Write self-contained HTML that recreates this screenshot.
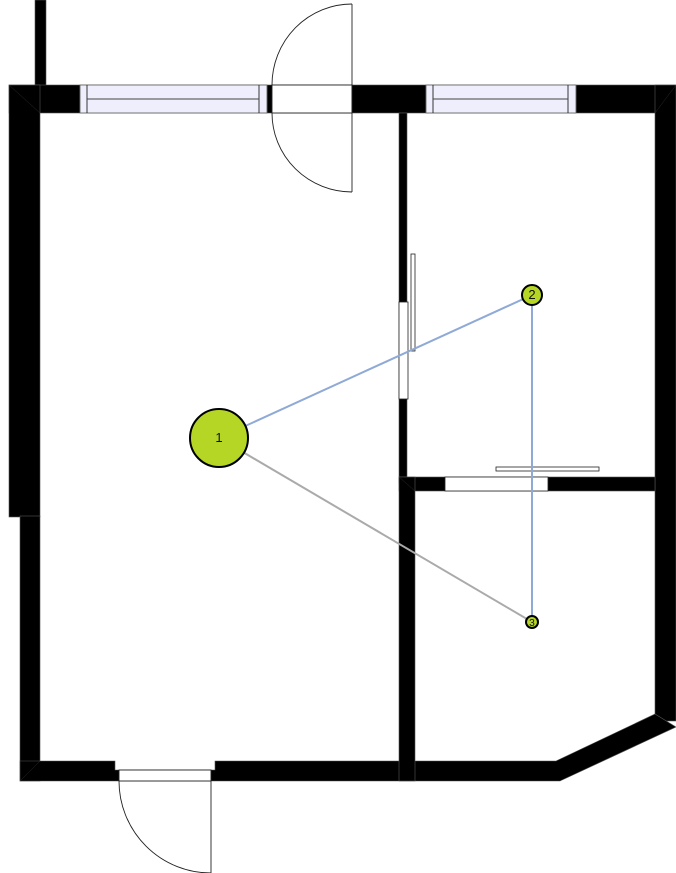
<!DOCTYPE html>
<html><head><meta charset="utf-8">
<style>
html,body{margin:0;padding:0;background:#fff;width:676px;height:873px;overflow:hidden}
svg{display:block}
text{font-family:"Liberation Sans",sans-serif}
</style></head>
<body>
<svg id="plan" width="676" height="873" viewBox="0 0 676 873" xmlns="http://www.w3.org/2000/svg">
  <g fill="#000" stroke="#555" stroke-width="0.6">
    <rect x="35" y="0" width="11" height="86"/>
    <rect x="9" y="85" width="667" height="28"/>
    <rect x="9" y="85" width="31" height="432"/>
    <rect x="20" y="516" width="20" height="265"/>
    <rect x="655" y="85" width="21" height="636"/>
    <polygon points="20,761 115,761 115,770 215,770 215,761 556,761 655,714 676,727 560,781 20,781"/>
    <rect x="399" y="113" width="8" height="370"/>
    <rect x="399" y="477" width="256" height="14"/>
    <rect x="399" y="477" width="16" height="304"/>
  </g>
  <g stroke="#333" stroke-width="0.4">
    <line x1="9" y1="85" x2="40" y2="113"/>
    <line x1="676" y1="85" x2="655" y2="113"/>
    <line x1="399" y1="477" x2="415" y2="491"/>
    <line x1="20" y1="781" x2="40" y2="761"/>
  </g>
  <g stroke="#222" stroke-width="0.9">
    <rect x="80" y="85" width="187" height="28" fill="#eeeefc" stroke="#666"/>
    <line x1="87" y1="85" x2="87" y2="113"/>
    <line x1="259" y1="85" x2="259" y2="113"/>
    <line x1="87" y1="99" x2="259" y2="99" stroke="#444"/>
  </g>
  <g stroke="#222" stroke-width="0.9">
    <rect x="426" y="85" width="150" height="28" fill="#eeeefc" stroke="#666"/>
    <line x1="433" y1="85" x2="433" y2="113"/>
    <line x1="568" y1="85" x2="568" y2="113"/>
    <line x1="433" y1="99" x2="568" y2="99" stroke="#444"/>
  </g>
  <g fill="none" stroke="#222" stroke-width="0.9">
    <rect x="272" y="85" width="80" height="28" fill="#fff"/>
    <line x1="352" y1="4" x2="352" y2="192"/>
    <path d="M352 4 A80 81 0 0 0 272 85"/>
    <path d="M272 113 A80 79 0 0 0 352 192"/>
  </g>
  <g fill="none" stroke="#222" stroke-width="0.9">
    <rect x="119" y="770" width="92" height="11" fill="#fff"/>
    <line x1="211" y1="781" x2="211" y2="873"/>
    <path d="M119 781 A92 92 0 0 0 211 873"/>
  </g>
  <g fill="#fff" stroke="#222" stroke-width="0.8">
    <rect x="399" y="302" width="9" height="97"/>
    <rect x="411" y="254" width="4" height="97"/>
    <rect x="445" y="477" width="103" height="14"/>
    <rect x="496" y="467" width="103" height="4"/>
  </g>
  <g id="links"></g>
  <g id="nodes"></g>
</svg>
<script>
const nodeIds = [1, 2, 3];
const nodeX = [219, 532, 532];
const nodeY = [438, 295, 622];
const nodeR = [29, 10, 6];
const linkFrom = [0, 1, 0];
const linkTo = [1, 2, 2];
const linkColor = ["#8faad6", "#8faad6", "#aaaaaa"];

const NS = "http://www.w3.org/2000/svg";
const linksG = document.getElementById("links");
const nodesG = document.getElementById("nodes");
for (let i = 0; i < linkFrom.length; i++) {
  const a = linkFrom[i], b = linkTo[i];
  const l = document.createElementNS(NS, "line");
  l.setAttribute("x1", nodeX[a]); l.setAttribute("y1", nodeY[a]);
  l.setAttribute("x2", nodeX[b]); l.setAttribute("y2", nodeY[b]);
  l.setAttribute("stroke", linkColor[i]); l.setAttribute("stroke-width", "2");
  
  
  linksG.appendChild(l);
}
for (let i = 0; i < nodeIds.length; i++) {
  const g = document.createElementNS(NS, "g");
  
  
  const c = document.createElementNS(NS, "circle");
  c.setAttribute("cx", nodeX[i]); c.setAttribute("cy", nodeY[i]); c.setAttribute("r", nodeR[i]);
  c.setAttribute("fill", "#b5d625"); c.setAttribute("stroke", "#000"); c.setAttribute("stroke-width", "2");
  g.appendChild(c);
  const t = document.createElementNS(NS, "text");
  t.setAttribute("x", nodeX[i]); t.setAttribute("y", nodeY[i] + 4);
  t.setAttribute("text-anchor", "middle");
  t.setAttribute("font-size", Math.min(13, nodeR[i] * 1.7));
  t.setAttribute("fill", "#111");
  t.textContent = nodeIds[i];
  
  
  g.appendChild(t);
  nodesG.appendChild(g);
}
</script>
</body></html>
